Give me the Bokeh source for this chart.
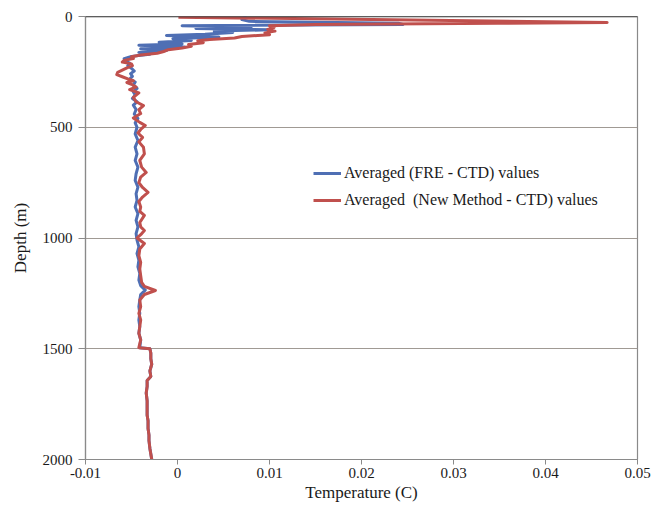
from bokeh.plotting import figure
from bokeh.models import Range1d, FixedTicker, Span, Legend, LegendItem
from bokeh.embed import file_html
from bokeh.resources import INLINE

# ---- data ----
x_ticks = [-0.01, 0, 0.01, 0.02, 0.03, 0.04, 0.05]
x_tick_labels = ["-0.01", "0", "0.01", "0.02", "0.03", "0.04", "0.05"]
y_ticks = [0, 500, 1000, 1500, 2000]

fre_depth = [0, 6, 14, 22, 30, 36, 42, 48, 54, 60, 66, 72, 80, 86, 92, 100, 108, 116, 124,
             130, 138, 146, 154, 162, 170, 180, 190, 200, 210, 222, 234, 246, 258, 270, 282,
             296, 310, 325, 340, 355, 370, 385, 400, 420, 440, 460, 480, 500, 530, 560, 590,
             620, 650, 680, 710, 740, 770, 800, 830, 860, 890, 920, 950, 980, 1010, 1040, 1070,
             1100, 1130, 1160, 1190, 1215, 1235, 1255, 1280, 1310, 1340, 1370, 1400, 1430, 1460,
             1495, 1500, 1520, 1545, 1570, 1600, 1625, 1643, 1670, 1700, 1735, 1765, 1800, 1825,
             1860, 1890, 1915, 1950, 1975, 2000]
fre_temp = [0.0075, 0.0072, 0.0070, 0.0078, 0.0240, 0.0245, 0.0005, 0.0080, 0.0020, 0.0100,
            0.0040, 0.0060, 0.0030, -0.0012, 0.0045, -0.0005, 0.0015, -0.0020, 0.0005,
            -0.0042, 0.0008, -0.0040, -0.0012, -0.0042, -0.0030, -0.0050, -0.0058, -0.0057,
            -0.0052, -0.0054, -0.0050, -0.0047, -0.0051, -0.0049, -0.0052, -0.0046, -0.0048,
            -0.0044, -0.0048, -0.0046, -0.0049, -0.0044, -0.0048, -0.0045, -0.0047, -0.0043,
            -0.0046, -0.0044, -0.0046, -0.0043, -0.0046, -0.0044, -0.0046, -0.0043, -0.0045,
            -0.0046, -0.0043, -0.0045, -0.0044, -0.0046, -0.0043, -0.0045, -0.0043, -0.0045,
            -0.0044, -0.0042, -0.0044, -0.0042, -0.0043, -0.0041, -0.0042, -0.0040, -0.0035,
            -0.0040, -0.0041, -0.0042, -0.0041, -0.0042, -0.0041, -0.0042, -0.0040, -0.0041,
            -0.0030, -0.0029, -0.0029, -0.0028, -0.0030, -0.0029, -0.0033, -0.0033, -0.0034,
            -0.0033, -0.0033, -0.0033, -0.0032, -0.0032, -0.0031, -0.0031, -0.0030, -0.0029,
            -0.0028]

new_depth = [3, 27, 31, 36, 42, 50, 58, 66, 74, 82, 90, 97, 104, 110, 118, 126, 134, 142, 150,
             158, 166, 174, 182, 190, 198, 206, 214, 222, 232, 242, 252, 262, 272, 282, 290,
             298, 306, 318, 330, 345, 365, 385, 402, 420, 438, 458, 478, 492, 510, 526, 546,
             566, 590, 620, 650, 680, 704, 725, 750, 772, 794, 815, 835, 860, 880, 898, 930,
             950, 966, 985, 1000, 1025, 1050, 1080, 1110, 1140, 1170, 1200, 1218, 1237, 1255,
             1280, 1310, 1340, 1370, 1400, 1430, 1460, 1495, 1500, 1520, 1545, 1570, 1600,
             1625, 1643, 1670, 1700, 1735, 1765, 1800, 1825, 1860, 1890, 1915, 1950, 1975, 2000]
new_temp = [0.0001, 0.0467, 0.0348, 0.0150, 0.0100, 0.0105, 0.0098, 0.0106, 0.0095, 0.0100,
            0.0070, 0.0062, 0.0035, 0.0022, 0.0028, 0.0012, 0.0015, 0.0005, -0.0010, -0.0015,
            -0.0022, -0.0040, -0.0050, -0.0048, -0.0058, -0.0060, -0.0050, -0.0049, -0.0055,
            -0.0060, -0.0065, -0.0066, -0.0060, -0.0054, -0.0048, -0.0055, -0.0050, -0.0045,
            -0.0052, -0.0042, -0.0048, -0.0045, -0.0037, -0.0042, -0.0040, -0.0048, -0.0041,
            -0.0035, -0.0040, -0.0043, -0.0038, -0.0042, -0.0037, -0.0036, -0.0041, -0.0039,
            -0.0034, -0.0040, -0.0042, -0.0038, -0.0032, -0.0038, -0.0042, -0.0040, -0.0041,
            -0.0036, -0.0041, -0.0040, -0.0036, -0.0040, -0.0044, -0.0036, -0.0041, -0.0042,
            -0.0040, -0.0041, -0.0040, -0.0039, -0.0036, -0.0024, -0.0036, -0.0041, -0.0040,
            -0.0042, -0.0040, -0.0041, -0.0042, -0.0040, -0.0042, -0.0030, -0.0029, -0.0029,
            -0.0028, -0.0030, -0.0029, -0.0033, -0.0033, -0.0034, -0.0033, -0.0033, -0.0033,
            -0.0032, -0.0032, -0.0031, -0.0031, -0.0030, -0.0029, -0.0028]

labels = ["Averaged (FRE - CTD) values", "Averaged  (New Method - CTD) values"]
colors = ["#4F6FB4", "#C0504D"]

FONT = "'Liberation Serif', serif"

p = figure(width=656, height=508, output_backend="svg", toolbar_location=None,
           x_range=Range1d(-0.01, 0.05), y_range=Range1d(2000, 0),
           min_border_left=85, min_border_right=19, min_border_top=16, min_border_bottom=49)
p.background_fill_color = "white"
p.border_fill_color = "white"
p.outline_line_color = "#8A8A8A"
p.outline_line_width = 1.2

r1 = p.line(fre_temp, fre_depth, line_color=colors[0], line_width=3, line_join="round")
r2 = p.line(new_temp, new_depth, line_color=colors[1], line_width=3, line_join="round")

p.add_layout(Span(location=0, dimension="width", line_color="#333333", line_width=1.6))

# axes
p.xaxis.ticker = FixedTicker(ticks=x_ticks)
p.xaxis.major_label_overrides = {t: l for t, l in zip(x_ticks, x_tick_labels)}
p.yaxis.ticker = FixedTicker(ticks=y_ticks)
p.xaxis.axis_label = "Temperature (C)"
p.yaxis.axis_label = "Depth (m)"
for ax in (p.xaxis[0], p.yaxis[0]):
    ax.axis_label_text_font = FONT
    ax.axis_label_text_font_style = "normal"
    ax.axis_label_text_font_size = "17px"
    ax.axis_label_text_color = "#1a1a1a"
    ax.major_label_text_font = FONT
    ax.major_label_text_font_size = "15px"
    ax.major_label_text_color = "#1a1a1a"
    ax.axis_line_color = "#8A8A8A"
    ax.axis_line_width = 1.2
    ax.major_tick_line_color = "#8A8A8A"
    ax.major_tick_in = 0
    ax.minor_tick_line_color = None
p.yaxis.major_tick_out = 7
p.yaxis.major_label_standoff = 6
p.yaxis.axis_label_standoff = 10
p.xaxis.major_tick_out = 5
p.xaxis.major_label_standoff = 3
p.xaxis.axis_label_standoff = 2

p.xgrid.grid_line_color = None
p.ygrid.grid_line_color = "#A09A94"
p.ygrid.grid_line_width = 1.2

legend = Legend(items=[LegendItem(label=labels[0], renderers=[r1]),
                       LegendItem(label=labels[1], renderers=[r2])],
                location=(228, 249))
legend.padding = 0
legend.margin = 0
legend.spacing = 7
legend.label_height = 20
legend.glyph_height = 20
legend.glyph_width = 28
legend.label_standoff = 3
legend.label_text_font = FONT
legend.label_text_font_size = "16px"
legend.label_text_color = "#1a1a1a"
legend.border_line_color = None
legend.background_fill_alpha = 0
p.add_layout(legend)

open("out.html", "w").write(file_html(p, INLINE))
